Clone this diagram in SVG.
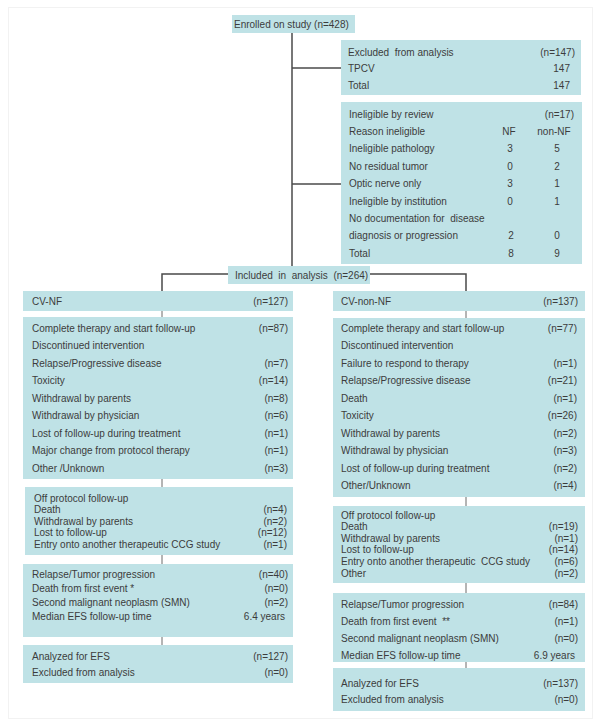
<svg xmlns="http://www.w3.org/2000/svg" width="601" height="728" viewBox="0 0 601 728">
<style>
.bg{fill:#ffffff}
.frame{fill:none;stroke:#f2f2f2;stroke-width:1}
.box{fill:#bfe2e6}
text{font-family:"Liberation Sans",Arial,sans-serif;font-size:10px;fill:#3c3c3c}
.r{text-anchor:end}
.m{text-anchor:middle}
.p{white-space:pre}
.ln{fill:none;stroke:#4a4a4a;stroke-width:1.5}
.tk{fill:none;stroke:#6a6a6a;stroke-width:1}
</style>
<rect class="bg" x="0" y="0" width="601" height="728"/>
<rect class="frame" x="8.5" y="7.5" width="584" height="711"/>

<g id="connectors">
<polyline class="ln" points="292,33 292,267"/>
<polyline class="ln" points="292,68 341,68"/>
<polyline class="ln" points="292,184 341,184"/>
<polyline class="ln" points="228,274 162,274 162,291"/>
<polyline class="ln" points="370,274 466,274 466,291"/>
<line class="tk" x1="162" y1="311" x2="162" y2="317"/>
<line class="tk" x1="162" y1="479" x2="162" y2="487"/>
<line class="tk" x1="162" y1="555" x2="162" y2="564"/>
<line class="tk" x1="162" y1="637" x2="162" y2="645"/>
<line class="tk" x1="466" y1="311" x2="466" y2="318"/>
<line class="tk" x1="466" y1="497" x2="466" y2="506"/>
<line class="tk" x1="466" y1="583" x2="466" y2="593"/>
<line class="tk" x1="466" y1="662" x2="466" y2="668"/>
</g>

<g id="enrolled">
<rect class="box" x="232" y="15" width="123" height="18"/>
<text x="234" y="27.5">Enrolled on study (n=428)</text>
</g>

<g id="excluded">
<rect class="box" x="341" y="40" width="240" height="55"/>
<text class="p" xml:space="preserve" x="348" y="55.5">Excluded  from analysis</text>
<text class="r" x="575" y="55.5">(n=147)</text>
<text x="348" y="72">TPCV</text>
<text class="r" x="570" y="72">147</text>
<text x="348" y="88.5">Total</text>
<text class="r" x="570" y="88.5">147</text>
</g>

<g id="ineligible">
<rect class="box" x="341" y="102" width="241" height="162"/>
<text x="349" y="117.5">Ineligible by review</text>
<text class="r" x="574" y="117.5">(n=17)</text>
<text x="349" y="135">Reason ineligible</text>
<text class="m" x="509" y="135">NF</text>
<text class="m" x="554" y="135">non-NF</text>
<text x="349" y="152.3">Ineligible pathology</text>
<text class="m" x="510" y="152.3">3</text>
<text class="m" x="557" y="152.3">5</text>
<text x="349" y="169.7">No residual tumor</text>
<text class="m" x="510" y="169.7">0</text>
<text class="m" x="557" y="169.7">2</text>
<text x="349" y="187.1">Optic nerve only</text>
<text class="m" x="510" y="187.1">3</text>
<text class="m" x="557" y="187.1">1</text>
<text x="349" y="204.5">Ineligible by institution</text>
<text class="m" x="510" y="204.5">0</text>
<text class="m" x="557" y="204.5">1</text>
<text class="p" xml:space="preserve" x="349" y="221.9">No documentation for  disease</text>
<text x="349" y="239.3">diagnosis or progression</text>
<text class="m" x="511" y="239.3">2</text>
<text class="m" x="557" y="239.3">0</text>
<text x="349" y="256.7">Total</text>
<text class="m" x="511" y="256.7">8</text>
<text class="m" x="557" y="256.7">9</text>
</g>

<g id="included">
<rect class="box" x="228" y="266" width="142" height="18"/>
<text class="p" xml:space="preserve" x="235" y="278.5">Included  in  analysis  (n=264)</text>
</g>

<g id="cv-nf">
<rect class="box" x="23" y="291" width="270" height="20"/>
<text x="32" y="304.5">CV-NF</text>
<text class="r" x="288" y="304.5">(n=127)</text>
</g>

<g id="cv-non-nf">
<rect class="box" x="333" y="291" width="252" height="20"/>
<text x="341" y="304.5">CV-non-NF</text>
<text class="r" x="578" y="304.5">(n=137)</text>
</g>

<g id="nf-therapy">
<rect class="box" x="23" y="317" width="270" height="162"/>
<text x="32" y="331.5">Complete therapy and start follow-up</text>
<text class="r" x="288" y="331.5">(n=87)</text>
<text x="32" y="349">Discontinued intervention</text>
<text x="32" y="366.5">Relapse/Progressive disease</text>
<text class="r" x="288" y="366.5">(n=7)</text>
<text x="32" y="384">Toxicity</text>
<text class="r" x="288" y="384">(n=14)</text>
<text x="32" y="401.5">Withdrawal by parents</text>
<text class="r" x="288" y="401.5">(n=8)</text>
<text x="32" y="419">Withdrawal by physician</text>
<text class="r" x="288" y="419">(n=6)</text>
<text x="32" y="436.5">Lost of follow-up during treatment</text>
<text class="r" x="288" y="436.5">(n=1)</text>
<text x="32" y="454">Major change from protocol therapy</text>
<text class="r" x="288" y="454">(n=1)</text>
<text x="32" y="471.5">Other /Unknown</text>
<text class="r" x="288" y="471.5">(n=3)</text>
</g>

<g id="nonnf-therapy">
<rect class="box" x="333" y="318" width="252" height="179"/>
<text x="341" y="331.5">Complete therapy and start follow-up</text>
<text class="r" x="577" y="331.5">(n=77)</text>
<text x="341" y="349">Discontinued intervention</text>
<text x="341" y="366.5">Failure to respond to therapy</text>
<text class="r" x="577" y="366.5">(n=1)</text>
<text x="341" y="384">Relapse/Progressive disease</text>
<text class="r" x="577" y="384">(n=21)</text>
<text x="341" y="401.5">Death</text>
<text class="r" x="577" y="401.5">(n=1)</text>
<text x="341" y="419">Toxicity</text>
<text class="r" x="577" y="419">(n=26)</text>
<text x="341" y="436.5">Withdrawal by parents</text>
<text class="r" x="577" y="436.5">(n=2)</text>
<text x="341" y="454">Withdrawal by physician</text>
<text class="r" x="577" y="454">(n=3)</text>
<text x="341" y="471.5">Lost of follow-up during treatment</text>
<text class="r" x="577" y="471.5">(n=2)</text>
<text x="341" y="489">Other/Unknown</text>
<text class="r" x="577" y="489">(n=4)</text>
</g>

<g id="nf-offprotocol">
<rect class="box" x="25" y="487" width="268" height="68"/>
<text x="34" y="501.5">Off protocol follow-up</text>
<text x="34" y="513">Death</text>
<text class="r" x="287" y="513">(n=4)</text>
<text x="34" y="524.5">Withdrawal by parents</text>
<text class="r" x="287" y="524.5">(n=2)</text>
<text x="34" y="536">Lost to follow-up</text>
<text class="r" x="287" y="536">(n=12)</text>
<text x="34" y="547.5">Entry onto another therapeutic CCG study</text>
<text class="r" x="287" y="547.5">(n=1)</text>
</g>

<g id="nonnf-offprotocol">
<rect class="box" x="333" y="506" width="252" height="77"/>
<text x="341" y="518.5">Off protocol follow-up</text>
<text x="341" y="530.1">Death</text>
<text class="r" x="578" y="530.1">(n=19)</text>
<text x="341" y="541.7">Withdrawal by parents</text>
<text class="r" x="578" y="541.7">(n=1)</text>
<text x="341" y="553.3">Lost to follow-up</text>
<text class="r" x="578" y="553.3">(n=14)</text>
<text class="p" xml:space="preserve" x="341" y="564.9">Entry onto another therapeutic  CCG study</text>
<text class="r" x="578" y="564.9">(n=6)</text>
<text x="341" y="576.5">Other</text>
<text class="r" x="578" y="576.5">(n=2)</text>
</g>

<g id="nf-events">
<rect class="box" x="23" y="564" width="270" height="73"/>
<text x="32" y="578">Relapse/Tumor progression</text>
<text class="r" x="288" y="578">(n=40)</text>
<text x="32" y="592">Death from first event *</text>
<text class="r" x="288" y="592">(n=0)</text>
<text x="32" y="606">Second malignant neoplasm (SMN)</text>
<text class="r" x="288" y="606">(n=2)</text>
<text x="32" y="620">Median EFS follow-up time</text>
<text class="r" x="285" y="620">6.4 years</text>
</g>

<g id="nonnf-events">
<rect class="box" x="333" y="593" width="252" height="69"/>
<text x="341" y="607.5">Relapse/Tumor progression</text>
<text class="r" x="578" y="607.5">(n=84)</text>
<text class="p" xml:space="preserve" x="341" y="624.5">Death from first event  **</text>
<text class="r" x="578" y="624.5">(n=1)</text>
<text x="341" y="641.5">Second malignant neoplasm (SMN)</text>
<text class="r" x="578" y="641.5">(n=0)</text>
<text x="341" y="658.5">Median EFS follow-up time</text>
<text class="r" x="575" y="658.5">6.9 years</text>
</g>

<g id="nf-analyzed">
<rect class="box" x="23" y="645" width="270" height="38"/>
<text x="32" y="659.5">Analyzed for EFS</text>
<text class="r" x="288" y="659.5">(n=127)</text>
<text x="32" y="675.5">Excluded from analysis</text>
<text class="r" x="288" y="675.5">(n=0)</text>
</g>

<g id="nonnf-analyzed">
<rect class="box" x="333" y="668" width="252" height="43"/>
<text x="341" y="686.5">Analyzed for EFS</text>
<text class="r" x="578" y="686.5">(n=137)</text>
<text x="341" y="702.5">Excluded from analysis</text>
<text class="r" x="578" y="702.5">(n=0)</text>
</g>
</svg>
